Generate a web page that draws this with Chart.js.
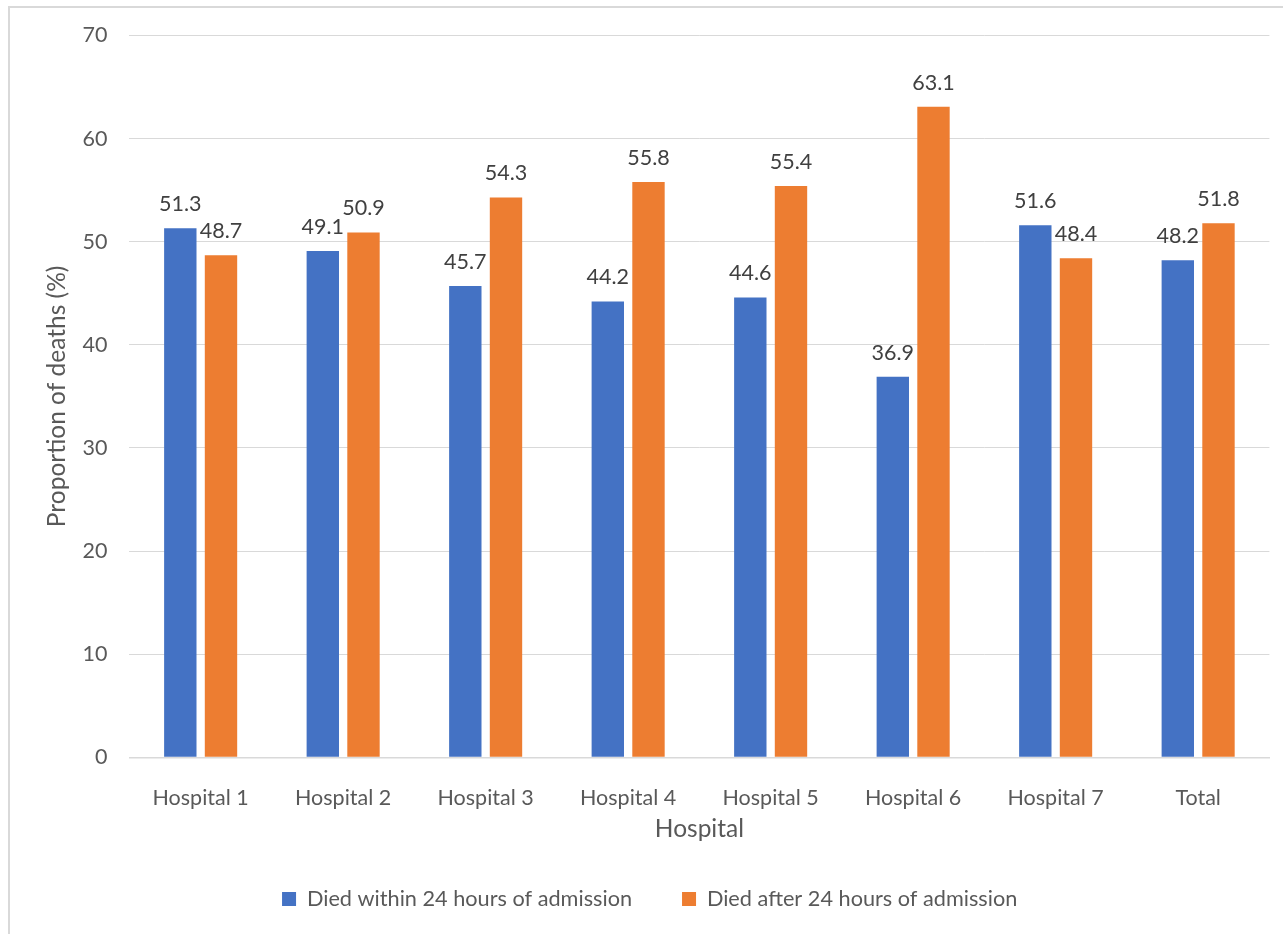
<!DOCTYPE html>
<html>
<head>
<meta charset="utf-8">
<title>Proportion of deaths by hospital</title>
<script src="https://cdn.jsdelivr.net/npm/chart.js@4/dist/chart.umd.min.js"></script>
<style>
  html, body { margin: 0; padding: 0; background: #ffffff; }
  #wrap { position: relative; width: 1283px; height: 934px; overflow: hidden; }
  #frame { position: absolute; left: 8px; top: 6px; width: 1400px; height: 1100px;
           border: 2px solid #d9d9d9; box-sizing: border-box; }
  #chart { position: absolute; left: 0; top: 0; }
</style>
</head>
<body>
<div id="wrap">
  <div id="frame"></div>
  <canvas id="chart" width="1283" height="934"></canvas>
</div>
<script>
// Categories and series values (percent of deaths)
const hospitals = ['Hospital 1', 'Hospital 2', 'Hospital 3', 'Hospital 4', 'Hospital 5', 'Hospital 6', 'Hospital 7', 'Total'];
const diedWithin24h = [51.3, 49.1, 45.7, 44.2, 44.6, 36.9, 51.6, 48.2];
const diedAfter24h = [48.7, 50.9, 54.3, 55.8, 55.4, 63.1, 48.4, 51.8];
const seriesNames = ['Died within 24 hours of admission', 'Died after 24 hours of admission'];
const yTicks = [0, 10, 20, 30, 40, 50, 60, 70];

const FONT = 'Lato, "Open Sans", sans-serif';
const TEXT = '#595959';
const GRID = '#d9d9d9';

// Writes each bar's value just above it
const valueLabels = {
  id: 'valueLabels',
  afterDatasetsDraw(chart) {
    const ctx = chart.ctx;
    ctx.save();
    ctx.font = '21.5px ' + FONT;
    ctx.fillStyle = '#404040';
    ctx.textAlign = 'center';
    ctx.textBaseline = 'middle';
    chart.data.datasets.forEach((ds, i) => {
      chart.getDatasetMeta(i).data.forEach((bar, j) => {
        ctx.fillText(ds.data[j].toFixed(1), bar.x, bar.y - 24);
      });
    });
    ctx.restore();
  }
};

new Chart(document.getElementById('chart'), {
  type: 'bar',
  data: {
    labels: hospitals,
    datasets: [
      { label: seriesNames[0], data: diedWithin24h, backgroundColor: '#4472C4',
        categoryPercentage: 0.571, barPercentage: 0.796 },
      { label: seriesNames[1], data: diedAfter24h, backgroundColor: '#ED7D31',
        categoryPercentage: 0.571, barPercentage: 0.796 }
    ]
  },
  options: {
    responsive: false,
    animation: false,
    devicePixelRatio: 1,
    layout: { padding: { top: 35.5, right: 13.6, left: 30, bottom: 14.25 } },
    plugins: {
      tooltip: { enabled: false },
      legend: {
        position: 'bottom',
        labels: {
          boxWidth: 14, boxHeight: 14, padding: 50,
          color: TEXT, font: { family: FONT, size: 21.7 }
        }
      }
    },
    scales: {
      x: {
        grid: { display: false },
        border: { display: true, color: GRID, width: 1.5 },
        ticks: { color: TEXT, font: { family: FONT, size: 21.5 }, padding: 20 },
        title: { display: true, text: 'Hospital', color: TEXT,
                 font: { family: FONT, size: 24.5 }, padding: { top: 0, bottom: -5.45 } },
        afterFit(scale) { scale.height = 80.75; }
      },
      y: {
        min: 0, max: 70,
        afterBuildTicks(scale) { scale.ticks = yTicks.map(v => ({ value: v })); },
        grid: { color: GRID, lineWidth: 1, drawTicks: false },
        border: { display: false },
        ticks: { color: TEXT, font: { family: FONT, size: 21.5 }, padding: 22 },
        title: { display: true, text: 'Proportion of deaths (%)', color: TEXT,
                 font: { family: FONT, size: 24.5 }, padding: { top: 12.3, bottom: 0 } },
        afterFit(scale) { scale.width = 99.4; }
      }
    }
  },
  plugins: [valueLabels]
});
</script>
</body>
</html>
